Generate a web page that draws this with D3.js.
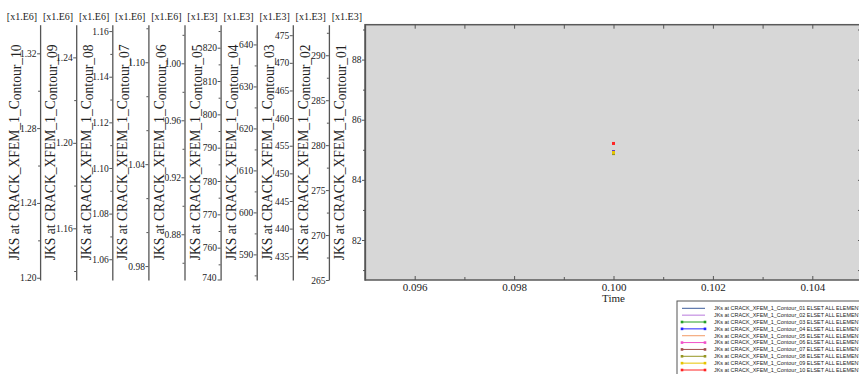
<!DOCTYPE html>
<html>
<head>
<meta charset="utf-8">
<script src="https://cdn.jsdelivr.net/npm/d3@7"></script>
<style>
  body { margin: 0; background: #fff; }
  svg { display: block; }
  text { font-family: "Liberation Serif", "Times New Roman", serif; fill: #222; }
</style>
</head>
<body>
<div id="chart"></div>
<script>
// one value per contour, all at the same time step
let contours = ['01', '02', '03', '04', '05', '06', '07', '08', '09', '10']
let times = [0.1]
let jksValues = [84.9, 279.3, 453.8, 614.5, 788.5, 0.9375, 1.047, 1.1063, 1.1955, 1.2718]
let multipliers = ['[x1.E3]', '[x1.E3]', '[x1.E3]', '[x1.E3]', '[x1.E3]',
                   '[x1.E6]', '[x1.E6]', '[x1.E6]', '[x1.E6]', '[x1.E6]']

// every curve gets its own y axis (abaqus style)
let axisMin = [80.67, 265.0, 430.7, 583.9, 750.3, 0.8479, 0.9718, 1.0509, 1.1358, 1.1988]
let axisMax = [89.16, 293.4, 476.9, 644.7, 826.9, 1.0271, 1.1221, 1.1628, 1.2553, 1.3353]
let majorTicks = [
    [82, 84, 86, 88],
    [265, 270, 275, 280, 285, 290],
    [435, 440, 445, 450, 455, 460, 465, 470, 475],
    [590, 600, 610, 620, 630, 640],
    [760, 770, 780, 790, 800, 810, 820],
    [0.88, 0.92, 0.96, 1.00],
    [0.98, 1.04, 1.10],
    [1.06, 1.08, 1.10, 1.12, 1.14, 1.16],
    [1.16, 1.20, 1.24],
    [1.20, 1.24, 1.28, 1.32]
]
let minorTicks = [
    [81, 83, 85, 87, 89],
    [267.5, 272.5, 277.5, 282.5, 287.5, 292.5],
    [],
    [585, 595, 605, 615, 625, 635],
    [755, 765, 775, 785, 795, 805, 815, 825],
    [0.86, 0.90, 0.94, 0.98, 1.02],
    [1.00, 1.02, 1.06, 1.08, 1.12],
    [1.07, 1.09, 1.11, 1.13, 1.15],
    [1.14, 1.18, 1.22],
    [1.22, 1.26, 1.30]
]
let bottomLabels = [null, null, null, null, '740', null, null, null, null, null]

let xTicks = [0.096, 0.098, 0.100, 0.102, 0.104]
let xMinorTicks = [0.095, 0.097, 0.099, 0.101, 0.103, 0.105]

let colors = ['#3d5c9c', '#b878dc', '#24a024', '#2424ff', '#f29a66',
              '#f050c8', '#a44c4c', '#969622', '#e6c400', '#ff2424']
let hasMarker = [false, false, true, true, false, true, true, true, true, true]

let width = 859, height = 374
let plot = { left: 365, right: 862, top: 24.7, bottom: 280 }
let axisGap = 36.1

let svg = d3.select('#chart')
    .append('svg')
    .attr('width', width)
    .attr('height', height)

let x = d3.scaleLinear().domain([0.095, 0.105]).range([plot.left, plot.right])
let yScales = contours.map((c, i) => d3.scaleLinear()
    .domain([axisMin[i], axisMax[i]])
    .range([plot.bottom, plot.top]))

// grey plot area
svg.append('rect')
    .attr('x', plot.left)
    .attr('y', plot.top)
    .attr('width', plot.right - plot.left)
    .attr('height', plot.bottom - plot.top)
    .attr('fill', '#d7d7d7')
    .attr('stroke', '#5a5a5a')
    .attr('stroke-width', 1.5)

// x axis, ticks point into the plot
let xAxis = svg.append('g')
    .attr('transform', `translate(0,${plot.bottom})`)
    .call(d3.axisBottom(x).tickValues(xTicks).tickSize(-4).tickPadding(3.5)
        .tickSizeOuter(0).tickFormat(d3.format('.3f')))
xAxis.select('.domain').remove()
xAxis.selectAll('text').style('font-size', '11px').attr('fill', '#222')
xAxis.selectAll('line').attr('stroke', '#555')

let xMinor = svg.append('g')
    .attr('transform', `translate(0,${plot.bottom})`)
    .call(d3.axisBottom(x).tickValues(xMinorTicks).tickSize(-3).tickFormat(''))
xMinor.select('.domain').remove()
xMinor.selectAll('line').attr('stroke', '#555')

let xTop = svg.append('g')
    .attr('transform', `translate(0,${plot.top})`)
    .call(d3.axisTop(x).tickValues(xTicks.concat(xMinorTicks)).tickSize(-4).tickFormat(''))
xTop.select('.domain').remove()
xTop.selectAll('line').attr('stroke', '#555')

svg.append('text')
    .attr('x', (plot.left + plot.right) / 2)
    .attr('y', 302)
    .attr('text-anchor', 'middle')
    .style('font-size', '11px')
    .text('Time')

// right edge mirrors the contour_01 axis
let yRight = svg.append('g')
    .attr('transform', `translate(${plot.right},0)`)
    .call(d3.axisRight(yScales[0]).tickValues(majorTicks[0].concat(minorTicks[0]))
        .tickSize(-4).tickFormat(''))
yRight.select('.domain').remove()
yRight.selectAll('line').attr('stroke', '#555')

// the stack of y axes, contour_01 sits on the plot border and the rest go left
contours.forEach((c, i) => {
    let ax = plot.left - i * axisGap
    let fmt = multipliers[i] === '[x1.E6]' ? d3.format('.2f') : d3.format('d')

    // rotated title, "ontour_xx" drops a bit like a subscript
    let title = svg.append('text')
        .attr('transform', `translate(${ax - 21},${(plot.top + plot.bottom) / 2}) rotate(-90)`)
        .attr('text-anchor', 'middle')
        .style('font-size', '13.6px')
        .attr('fill', '#1e2a44')
    title.append('tspan').text('JKS at CRACK_XFEM_1_C')
    title.append('tspan').attr('dy', 2).text('ontour_' + c)

    let gMinor = svg.append('g')
        .attr('transform', `translate(${ax},0)`)
        .call(d3.axisLeft(yScales[i]).tickValues(minorTicks[i]).tickSize(2).tickFormat(''))
    gMinor.select('.domain').remove()
    gMinor.selectAll('line').attr('stroke', '#555')

    let g = svg.append('g')
        .attr('transform', `translate(${ax},0)`)
        .call(d3.axisLeft(yScales[i]).tickValues(majorTicks[i]).tickSize(3)
            .tickSizeOuter(0).tickPadding(0.5).tickFormat(fmt))
    g.select('.domain').attr('stroke', '#555').attr('stroke-width', 1.3)
    g.selectAll('.tick line').attr('stroke', '#555')
    g.selectAll('text').style('font-size', '9.5px').attr('fill', '#333')

    if (bottomLabels[i]) {
        g.append('text')
            .attr('x', -4)
            .attr('y', yScales[i](axisMin[i]))
            .attr('dy', '0.1em')
            .attr('text-anchor', 'end')
            .style('font-size', '9.5px')
            .attr('fill', '#333')
            .text(bottomLabels[i])
        g.append('line')
            .attr('x1', -3).attr('x2', 0)
            .attr('y1', yScales[i](axisMin[i])).attr('y2', yScales[i](axisMin[i]))
            .attr('stroke', '#555')
    }

    // multiplier on top of each axis
    svg.append('text')
        .attr('x', ax - 3)
        .attr('y', 19.5)
        .attr('text-anchor', 'end')
        .style('font-size', '10px')
        .text(multipliers[i])
})

// the single time step, one marker per curve on its own axis
let points = []
contours.forEach((c, i) => {
    times.forEach(t => points.push({ i: i, t: t, v: jksValues[i] }))
})
svg.selectAll('rect.pt')
    .data(points.filter(d => hasMarker[d.i]))
    .join('rect')
    .attr('class', 'pt')
    .attr('x', d => x(d.t) - 1.5)
    .attr('y', d => yScales[d.i](d.v) - 1.5)
    .attr('width', 3)
    .attr('height', 3)
    .attr('fill', d => colors[d.i])

// legend box down in the corner (runs off the page like the original)
let legend = svg.append('g').attr('transform', 'translate(677,301)')
legend.append('rect')
    .attr('width', 200)
    .attr('height', 90)
    .attr('fill', '#fff')
    .attr('stroke', '#555')
    .attr('stroke-width', 1)

let rowY = d3.scalePoint().domain(contours).range([7.3, 69])
contours.forEach((c, i) => {
    let yy = rowY(c)
    legend.append('line')
        .attr('x1', 5).attr('x2', 28)
        .attr('y1', yy).attr('y2', yy)
        .attr('stroke', colors[i])
        .attr('stroke-width', 1)
    if (hasMarker[i]) {
        [5, 28].forEach(mx => legend.append('rect')
            .attr('x', mx - 1.3).attr('y', yy - 1.3)
            .attr('width', 2.6).attr('height', 2.6)
            .attr('fill', colors[i]))
    }
    legend.append('text')
        .attr('x', 37)
        .attr('y', yy + 1.8)
        .style('font-family', '"Liberation Sans", Arial, sans-serif')
        .style('font-size', '5.45px')
        .attr('fill', '#333')
        .text('JKs at CRACK_XFEM_1_Contour_' + c + ' ELSET ALL ELEMENTS')
})
</script>
</body>
</html>
